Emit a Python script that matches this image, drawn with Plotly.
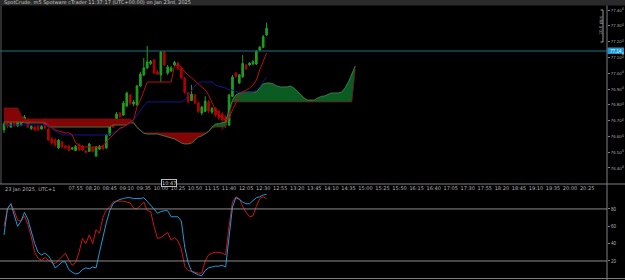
import numpy as np
import pandas as pd
import plotly.graph_objects as go

W, H = 625, 280

# ---------------- data ----------------
times = pd.date_range("2025-01-23 06:10", periods=78, freq="5min")
cloud_times = pd.date_range("2025-01-23 06:10", periods=104, freq="5min")
time_ticks = pd.date_range("2025-01-23 07:55", "2025-01-23 20:25", freq="25min")
time_labels = [t.strftime("%H:%M") for t in time_ticks]

price_ticks = [76.40, 76.50, 76.60, 76.70, 76.80, 76.90, 77.00, 77.10, 77.20, 77.30, 77.40]
price_labels = [f"{v:.2f}" for v in price_ticks]
pipette_labels = ["0"] * len(price_ticks)
stoch_ticks = [20, 40, 60, 80]
stoch_labels = ["20", "40", "60", "80"]
level_line = 77.1405
level_label = "77.14"
level_pipette = "0"

opens = [76.641, 76.678, 76.659, 76.685, 76.666, 76.672, 76.697, 76.704, 76.650, 76.659,
         76.663, 76.647, 76.704, 76.647, 76.584, 76.577, 76.527, 76.565, 76.539, 76.539,
         76.520, 76.511, 76.546, 76.539, 76.508, 76.505, 76.527, 76.476, 76.520, 76.539,
         76.527, 76.609, 76.691, 76.685, 76.748, 76.735, 76.792, 76.862, 76.805, 76.799,
         76.919, 76.989, 77.033, 77.061, 77.084, 77.008, 76.989, 77.134, 77.001, 77.014,
         77.052, 77.065, 77.033, 76.970, 76.875, 76.827, 76.862, 76.811, 76.748, 76.758,
         76.818, 76.754, 76.780, 76.761, 76.742, 76.723, 76.672, 76.853, 77.001, 76.938,
         76.979, 77.052, 77.052, 77.058, 77.058, 77.147, 77.164, 77.242]
highs = [76.691, 76.691, 76.691, 76.697, 76.704, 76.716, 76.735, 76.716, 76.672, 76.666,
         76.672, 76.672, 76.716, 76.653, 76.596, 76.590, 76.584, 76.571, 76.546, 76.546,
         76.533, 76.546, 76.558, 76.546, 76.514, 76.558, 76.533, 76.539, 76.546, 76.546,
         76.615, 76.685, 76.704, 76.754, 76.754, 76.824, 76.881, 76.868, 76.830, 76.925,
         77.008, 77.096, 77.172, 77.084, 77.090, 77.020, 77.141, 77.141, 77.052, 77.046,
         77.077, 77.071, 77.039, 76.976, 76.881, 76.925, 76.868, 76.818, 76.792, 76.856,
         76.830, 76.786, 76.786, 76.767, 76.754, 76.735, 76.868, 76.989, 77.008, 76.995,
         77.115, 77.058, 77.071, 77.084, 77.147, 77.172, 77.242, 77.320]
lows = [76.622, 76.653, 76.653, 76.659, 76.659, 76.666, 76.691, 76.653, 76.641, 76.634,
        76.634, 76.641, 76.647, 76.571, 76.546, 76.533, 76.520, 76.527, 76.520, 76.508,
        76.514, 76.508, 76.508, 76.508, 76.495, 76.501, 76.501, 76.470, 76.514, 76.514,
        76.520, 76.603, 76.653, 76.678, 76.716, 76.729, 76.786, 76.799, 76.792, 76.792,
        76.913, 76.982, 77.027, 77.052, 76.995, 76.989, 76.944, 77.046, 76.989, 77.008,
        77.046, 77.020, 76.963, 76.868, 76.811, 76.824, 76.805, 76.748, 76.735, 76.754,
        76.748, 76.742, 76.723, 76.704, 76.641, 76.653, 76.666, 76.849, 76.970, 76.932,
        76.970, 77.020, 77.046, 77.052, 77.052, 77.141, 77.159, 77.235]
closes = [76.678, 76.666, 76.685, 76.672, 76.691, 76.704, 76.723, 76.659, 76.663, 76.641,
          76.641, 76.663, 76.653, 76.577, 76.558, 76.546, 76.577, 76.533, 76.527, 76.511,
          76.527, 76.536, 76.514, 76.514, 76.498, 76.552, 76.505, 76.533, 76.536, 76.520,
          76.609, 76.672, 76.659, 76.742, 76.726, 76.811, 76.875, 76.811, 76.818, 76.919,
          76.995, 77.033, 77.071, 77.074, 77.001, 76.995, 77.134, 77.052, 77.039, 77.033,
          77.068, 77.027, 76.970, 76.878, 76.821, 76.868, 76.811, 76.758, 76.786, 76.824,
          76.761, 76.777, 76.735, 76.716, 76.704, 76.672, 76.862, 76.976, 76.979, 76.989,
          77.061, 77.027, 77.063, 77.073, 77.136, 77.164, 77.231, 77.284]

tenkan = ([76.678, 76.685, 76.691, 76.691, 76.691, 76.691, 76.697, 76.697, 76.691, 76.691,
           76.691, 76.691, 76.691,
           76.672, 76.659, 76.641, 76.634, 76.628, 76.622, 76.622, 76.609, 76.558, 76.546]
          + [76.533] * 6
          + [76.539, 76.565, 76.590, 76.609, 76.634, 76.653, 76.659, 76.678, 76.691, 76.704,
             76.786, 76.830, 76.894]
          + [76.944] * 8
          + [77.046, 77.052, 77.039, 77.008, 76.989, 76.970, 76.957, 76.932, 76.913, 76.894,
             76.862, 76.811, 76.767, 76.735, 76.716, 76.704, 76.716, 76.767, 76.811, 76.856,
             76.881, 76.894, 76.906, 76.925, 76.957, 77.020, 77.071, 77.128])

kijun = ([76.672] * 13
         + [76.666, 76.653, 76.634, 76.622]
         + [76.609] * 14
         + [76.615, 76.622, 76.634, 76.647, 76.659, 76.672, 76.685, 76.704, 76.735, 76.767, 76.792]
         + [76.818] * 11
         + [76.830, 76.862, 76.894, 76.919, 76.938]
         + [76.944] * 4
         + [76.925, 76.919, 76.913, 76.906, 76.894, 76.894]
         + [76.881] * 6
         + [76.894, 76.913, 76.944, 76.976])

senkou_b = ([76.780] * 5 + [76.735] + [76.710] * 32 + [76.691, 76.659, 76.641]
            + [76.622] * 19 + [76.634, 76.653] + [76.659] * 4 + [76.735]
            + [76.818] * 36 + [77.021])

senkou_a = ([76.691] * 6 + [76.685] * 7 + [76.659] * 19 + [76.672] * 5
            + [76.685, 76.685, 76.656, 76.638, 76.620] + [76.615] * 4
            + [76.609, 76.603, 76.596, 76.590, 76.584, 76.571, 76.558, 76.552, 76.552, 76.558,
               76.577, 76.596, 76.603, 76.615, 76.631, 76.659, 76.678, 76.681, 76.685, 76.691]
            + [76.767, 76.830, 76.862, 76.875] + [76.881] * 5
            + [76.906, 76.932, 76.938, 76.938, 76.932, 76.919, 76.913, 76.913, 76.913, 76.919]
            + [76.906, 76.887, 76.862, 76.843, 76.830, 76.830, 76.830, 76.843, 76.853, 76.856,
               76.868, 76.875, 76.875, 76.875, 76.881, 76.906, 76.944, 76.995, 77.046])

stoch_red = [60, 80, 86, 78, 67, 66, 72, 62, 48, 30,
             23, 21, 24, 21, 18, 17, 21, 24, 29, 21,
             15, 18, 30, 46, 40, 50, 40, 56, 52, 70,
             79, 82, 88, 89, 89, 89, 88, 87, 81, 80,
             84, 88, 78, 77, 60, 46, 47, 50, 53, 44,
             47, 43, 34, 14, 9, 8, 7, 6, 6, 20,
             27, 29, 30, 30, 29, 27, 60, 88, 94, 92,
             83, 76, 71, 72, 83, 92, 94, 92]
stoch_blue = [50, 80, 86, 72, 60, 66, 76, 68, 55, 40,
              30, 27, 29, 26, 20, 12, 15, 19, 19, 10,
              7, 5, 6, 10, 12, 11, 13, 12, 30, 48,
              64, 78, 86, 89, 91, 92, 93, 93, 92, 92,
              92, 93, 89, 85, 80, 75, 77, 78, 78, 71,
              71, 71, 66, 36, 18, 8, 6, 4, 3, 9,
              12, 13, 14, 14, 15, 13, 46, 82, 93, 91,
              88, 86, 86, 90, 93, 94, 96, 97]

# ---------------- styles ----------------
GREEN = "#1f9e1f"
RED = "#b00000"
AXIS = "#7f7f7f"
TXT = "#b4b4b4"
FONT = "DejaVu Sans"
NFONT = "Liberation Sans"


def py(p):  # pixel row -> paper y
    return 1 - p / H


def pxx(p):  # pixel col -> paper x
    return p / W


XR = 607 / W
A = np.array(senkou_a)
B = np.array(senkou_b)
Y_RANGE = [76.2987, 77.4253]

fig = go.Figure()

# cloud: red where B above A, green where A above B
fig.add_trace(go.Scatter(x=cloud_times, y=B, mode="lines", line=dict(width=0),
                         hoverinfo="skip"))
fig.add_trace(go.Scatter(x=cloud_times, y=np.minimum(A, B), mode="lines", line=dict(width=0),
                         fill="tonexty", fillcolor="#840505", hoverinfo="skip"))
fig.add_trace(go.Scatter(x=cloud_times, y=B, mode="lines", line=dict(width=0),
                         hoverinfo="skip"))
fig.add_trace(go.Scatter(x=cloud_times, y=np.maximum(A, B), mode="lines", line=dict(width=0),
                         fill="tonexty", fillcolor="#0b5c22", hoverinfo="skip"))
fig.add_trace(go.Scatter(x=cloud_times, y=senkou_b, mode="lines",
                         line=dict(color="#7a1212", width=0.8), hoverinfo="skip"))
fig.add_trace(go.Scatter(x=cloud_times, y=senkou_a, mode="lines",
                         line=dict(color="#4c8a4c", width=0.8), hoverinfo="skip"))

fig.add_trace(go.Scatter(x=times, y=kijun, mode="lines",
                         line=dict(color="#16168e", width=1), hoverinfo="skip"))
fig.add_trace(go.Scatter(x=times, y=tenkan, mode="lines",
                         line=dict(color="#b81010", width=1), hoverinfo="skip"))

fig.add_trace(go.Candlestick(
    x=times, open=opens, high=highs, low=lows, close=closes,
    increasing=dict(line=dict(color=GREEN, width=1), fillcolor=GREEN),
    decreasing=dict(line=dict(color=RED, width=1), fillcolor=RED),
    whiskerwidth=0, hoverinfo="skip"))

# invisible carrier for the pipette-digit overlay axis
fig.add_trace(go.Scatter(x=[times[0]], y=[closes[0]], mode="markers", yaxis="y3",
                         marker=dict(size=1, opacity=0), hoverinfo="skip"))

# stochastic
fig.add_trace(go.Scatter(x=times, y=stoch_red, mode="lines", xaxis="x2", yaxis="y2",
                         line=dict(color="#d01414", width=1), hoverinfo="skip"))
fig.add_trace(go.Scatter(x=times, y=stoch_blue, mode="lines", xaxis="x2", yaxis="y2",
                         line=dict(color="#1e9ad6", width=1), hoverinfo="skip"))

x_range = ["2025-01-23 06:04:08", "2025-01-23 20:54:09"]

shapes = [
    dict(type="rect", xref="paper", yref="paper", x0=0, x1=1, y0=py(5.5), y1=1,
         fillcolor="#2a2a2a", line=dict(width=0), layer="below"),
    dict(type="line", xref="paper", yref="paper", x0=pxx(1), x1=pxx(1), y0=py(184), y1=py(5.5),
         line=dict(color="#5a5a5a", width=1)),
    dict(type="line", xref="paper", yref="paper", x0=XR, x1=XR, y0=0, y1=py(5.5),
         line=dict(color=AXIS, width=1)),
    dict(type="line", xref="paper", yref="paper", x0=0, x1=1, y0=py(184), y1=py(184),
         line=dict(color=AXIS, width=1)),
    dict(type="line", xref="paper", yref="paper", x0=0, x1=1, y0=py(278.5), y1=py(278.5),
         line=dict(color=AXIS, width=1)),
    dict(type="line", xref="paper", yref="y", x0=0, x1=XR, y0=level_line, y1=level_line,
         line=dict(color="#1f7488", width=1)),
    dict(type="line", xref="paper", yref="y2", x0=0, x1=XR, y0=80, y1=80,
         line=dict(color="#8c8c8c", width=1)),
    dict(type="line", xref="paper", yref="y2", x0=0, x1=XR, y0=20, y1=20,
         line=dict(color="#8c8c8c", width=1)),
    dict(type="line", xref="paper", yref="paper", x0=pxx(603), x1=pxx(603), y0=py(42), y1=py(10),
         line=dict(color="#9a9a9a", width=1)),
    dict(type="line", xref="paper", yref="paper", x0=pxx(600.5), x1=pxx(603), y0=py(10), y1=py(10),
         line=dict(color="#9a9a9a", width=1)),
    dict(type="line", xref="paper", yref="paper", x0=pxx(600.5), x1=pxx(603), y0=py(42), y1=py(42),
         line=dict(color="#9a9a9a", width=1)),
    # price box behind level label
    dict(type="rect", xref="paper", yref="paper", x0=pxx(607.5), x1=pxx(624), y0=py(54), y1=py(47.5),
         fillcolor="#1c9ad6", line=dict(width=0)),
]

annotations = [
    dict(text="SpotCrude, m5 Spotware cTrader 11:37:17 (UTC+00:00) on Jan 23rd, 2025",
         xref="paper", yref="paper", x=pxx(2), y=py(3), xanchor="left", yanchor="middle",
         showarrow=False, font=dict(size=5, color="#c8c8c8", family=FONT)),
    dict(text="23 Jan 2025, UTC+1", xref="paper", yref="paper", x=pxx(3), y=py(188.5),
         xanchor="left", yanchor="middle", showarrow=False,
         font=dict(size=5, color=TXT, family=FONT)),
    dict(text="10:47", xref="paper", yref="paper", x=pxx(169), y=py(182.5),
         xanchor="center", yanchor="middle", showarrow=False, bgcolor="#000000",
         bordercolor="#bdbdbd", borderwidth=1, borderpad=0,
         font=dict(size=5, color="#d0d0d0", family=FONT)),
    dict(text=level_label, xref="paper", yref="y", x=pxx(608.5), y=level_line, xanchor="left",
         yanchor="middle", showarrow=False, borderpad=0,
         font=dict(size=4.5, color="#ffffff", family=NFONT)),
    dict(text=level_pipette, xref="paper", yref="y", x=pxx(620.5), y=level_line, xanchor="left",
         yanchor="top", showarrow=False, borderpad=0,
         font=dict(size=3.2, color="#ffffff", family=NFONT)),
    dict(text="20.0 pips", xref="paper", yref="paper", x=pxx(599.5), y=py(26),
         xanchor="center", yanchor="middle", textangle=-90, showarrow=False,
         font=dict(size=4, color="#a0a0a0", family=FONT)),
]

fig.update_layout(
    width=W, height=H, margin=dict(l=0, r=0, t=0, b=0),
    paper_bgcolor="#000000", plot_bgcolor="#000000",
    showlegend=False, hovermode=False,
    font=dict(family=FONT, size=5, color=TXT),
    shapes=shapes, annotations=annotations,
    xaxis=dict(domain=[0, XR], type="date", range=x_range, anchor="y",
               rangeslider=dict(visible=False), showgrid=False, zeroline=False,
               showline=False, tickvals=list(time_ticks), ticktext=time_labels,
               ticks="", tickfont=dict(size=5, color=TXT, family=FONT)),
    yaxis=dict(domain=[py(184), py(6)], range=Y_RANGE, side="right", anchor="x",
               showgrid=False, zeroline=False, showline=False,
               tickvals=price_ticks, ticktext=price_labels, ticks="outside", ticklen=2,
               tickcolor=AXIS, tickfont=dict(size=4.3, color=TXT, family=NFONT)),
    yaxis3=dict(domain=[py(184), py(6)], range=Y_RANGE, side="right", anchor="x",
                overlaying="y", showgrid=False, zeroline=False, showline=False,
                tickvals=price_ticks, ticktext=pipette_labels, ticks="",
                ticklabelstandoff=14, ticklabelshift=-1,
                tickfont=dict(size=3.2, color=TXT, family=NFONT)),
    xaxis2=dict(domain=[0, XR], type="date", range=x_range, anchor="y2", matches="x",
                showgrid=False, zeroline=False, showline=False, showticklabels=False,
                ticks=""),
    yaxis2=dict(domain=[py(279), py(193)], range=[-0.8, 98.4], side="right", anchor="x2",
                showgrid=False, zeroline=False, showline=False,
                tickvals=stoch_ticks, ticktext=stoch_labels, ticks="outside", ticklen=2,
                tickcolor=AXIS, tickfont=dict(size=4.5, color=TXT, family=NFONT)),
)

fig.write_html("out.html")
